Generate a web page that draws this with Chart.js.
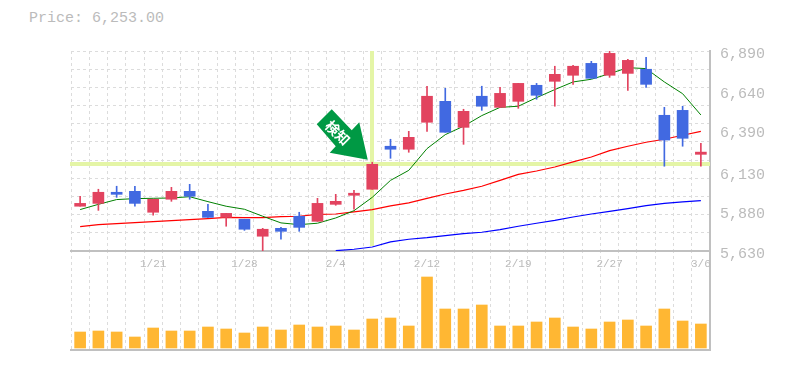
<!DOCTYPE html>
<html lang="ja">
<head>
    <meta charset="UTF-8">
    <title>Price chart</title>
    <script src="https://cdn.jsdelivr.net/npm/chart.js"></script>
    <style>
        body { margin: 0; background: #fff; }
        canvas { position: absolute; left: 0; top: 0; }
        #priceTitle { position: absolute; left: 29px; top: 10px; font: 15px "Liberation Mono", monospace; color: #bbb; }
    </style>
</head>
<body>
    <div id="priceTitle">Price: 6,253.00</div>
    <canvas id="volumeChart" width="785" height="370"></canvas>
    <canvas id="priceChart" width="785" height="370"></canvas>

    <script>
        const dates = ['1/15','1/16','1/17','1/18','1/21','1/22','1/23','1/24','1/25','1/28','1/29','1/30','1/31','2/1','2/4','2/5','2/6','2/7','2/8','2/12','2/13','2/14','2/15','2/18','2/19','2/20','2/21','2/22','2/25','2/27','2/28','3/1','3/4','3/5','3/6'];
        const shownDates = ['1/21','1/28','2/4','2/12','2/19','2/27','3/6'];
        const priceTicks = [5630, 5880, 6130, 6390, 6640, 6890];

        const opens  = [5912,5930,6000,6006,5874,5956,6006,5880,5842,5830,5723,5773,5849,5817,5924,5981,6019,6290,6271,6441,6573,6409,6605,6535,6573,6674,6699,6737,6812,6737,6749,6775,6485,6516,6239];
        const closes = [5930,6000,5987,5930,5956,6006,5975,5842,5867,5767,5767,5754,5779,5930,5943,5994,6176,6271,6346,6605,6378,6510,6542,6623,6686,6611,6743,6794,6718,6875,6831,6680,6329,6340,6253];
        const highs  = [5975,6019,6038,6038,5956,6031,6050,5924,5867,5830,5773,5779,5874,5962,5987,6012,6189,6334,6384,6668,6655,6523,6668,6661,6686,6686,6794,6800,6825,6890,6838,6850,6535,6542,6308];
        const lows   = [5912,5886,5968,5912,5855,5943,5956,5842,5786,5760,5630,5704,5754,5817,5918,5893,6019,6214,6252,6384,6378,6302,6516,6535,6529,6586,6542,6680,6718,6724,6642,6661,6164,6290,6164];

        const maShort  = [5891,5924,5954,5960,5962,5964,5972,5941,5912,5893,5849,5807,5796,5805,5838,5884,5968,6075,6138,6275,6363,6416,6483,6535,6542,6596,6647,6695,6712,6747,6785,6779,6695,6621,6487];
        const maMiddle = [5784,5796,5802,5809,5815,5821,5828,5834,5842,5840,5840,5847,5849,5861,5863,5876,5891,5914,5933,5962,5989,6012,6038,6075,6113,6134,6159,6191,6222,6262,6290,6315,6334,6359,6384];
        const maLong   = [null,null,null,null,null,null,null,null,null,null,null,null,null,null,5632,5641,5655,5687,5704,5714,5727,5739,5748,5765,5786,5805,5823,5844,5863,5880,5897,5916,5930,5939,5947];

        const volumes = [16,17,16,11,20,17,17,21,19,15,21,18,23,21,22,18,29,30,22,71,39,39,43,22,22,26,30,21,19,26,28,22,39,27,24];

        const signalDate = '2/6';
        const signalPrice = 6176;
        const signalText = '検知';

        const UP = '#e2435f';
        const DOWN = '#4169e1';
        const GRID = '#dcdcdc';
        const AXIS = '#c0c0c0';
        const LABEL = '#bbb';
        const candleColors = opens.map((o, i) => closes[i] >= o ? UP : DOWN);

        // crosshair and arrow on the signal day
        const signalPlugin = {
            id: 'signal',
            beforeDatasetsDraw(chart) {
                const { ctx, chartArea, scales } = chart;
                const x = Math.round(scales.x.getPixelForValue(dates.indexOf(signalDate)));
                const y = Math.round(scales.y.getPixelForValue(signalPrice));
                ctx.save();
                ctx.fillStyle = '#e4f5a6';
                ctx.fillRect(chartArea.left - 1, y - 2, chartArea.width + 1, 4);
                ctx.fillRect(x - 2, chartArea.top, 4, chartArea.height - 5);
                ctx.restore();
            },
            afterDatasetsDraw(chart) {
                const { ctx, scales } = chart;
                const x = scales.x.getPixelForValue(dates.indexOf(signalDate)) - 4.5;
                const y = scales.y.getPixelForValue(signalPrice) - 4.5;
                const arrow = [[-36, -50.5], [-51, -35.5], [-32, -13.5], [-38, -7], [0, 0], [-8.5, -37.5], [-16, -29.5]];
                ctx.save();
                ctx.fillStyle = '#009944';
                ctx.beginPath();
                arrow.forEach(([dx, dy], i) => i ? ctx.lineTo(x + dx, y + dy) : ctx.moveTo(x + dx, y + dy));
                ctx.closePath();
                ctx.fill();
                ctx.translate(x - 30, y - 27);
                ctx.rotate(Math.PI / 4);
                ctx.fillStyle = '#fff';
                ctx.font = 'bold 14px "Noto Sans CJK JP"';
                ctx.textAlign = 'center';
                ctx.textBaseline = 'middle';
                ctx.fillText(signalText, 0, 0);
                ctx.restore();
            }
        };

        new Chart(document.getElementById('priceChart'), {
            type: 'bar',
            data: {
                labels: dates,
                datasets: [
                    { type: 'bar', data: opens.map((o, i) => [o, closes[i]]), backgroundColor: candleColors, barThickness: 11, grouped: false, yAxisID: 'y', order: 1 },
                    { type: 'bar', data: lows.map((l, i) => [l, highs[i]]), backgroundColor: candleColors, barThickness: 1, grouped: false, yAxisID: 'y', order: 2 },
                    { type: 'line', data: maShort, borderColor: '#008000', borderWidth: 1, pointRadius: 0, tension: 0, yAxisID: 'y', order: 3 },
                    { type: 'line', data: maMiddle, borderColor: '#ff0000', borderWidth: 1.2, pointRadius: 0, tension: 0, yAxisID: 'y', order: 4 },
                    { type: 'line', data: maLong, borderColor: '#0000ff', borderWidth: 1.2, pointRadius: 0, tension: 0, yAxisID: 'y', order: 5 }
                ]
            },
            plugins: [signalPlugin],
            options: {
                responsive: false,
                animation: false,
                layout: { padding: { left: 71, top: 51 } },
                plugins: { legend: { display: false }, tooltip: { enabled: false } },
                scales: {
                    x: {
                        grid: { color: GRID, drawTicks: false },
                        border: { color: AXIS, width: 2, dash: [3, 3] },
                        afterFit(scale) { scale.height = 119; },
                        ticks: {
                            autoSkip: false,
                            maxRotation: 0,
                            padding: 6,
                            color: LABEL,
                            font: { family: '"Liberation Mono"', size: 11 },
                            callback(value) {
                                const d = dates[value];
                                return shownDates.includes(d) ? d : '';
                            }
                        }
                    },
                    y: {
                        min: 5630,
                        max: 6890,
                        grid: { color: GRID, drawTicks: false },
                        border: { display: false, dash: [3, 3] },
                        ticks: { display: false },
                        afterFit(scale) { scale.width = 0; },
                        afterBuildTicks(scale) {
                            const step = (scale.max - scale.min) / 11;
                            scale.ticks = Array.from({ length: 12 }, (_, i) => ({ value: scale.min + i * step }));
                        }
                    },
                    // labels sit a little under their grid position in the original
                    y2: {
                        position: 'right',
                        min: 5649,
                        max: 6909,
                        grid: { display: false },
                        border: { display: true, color: AXIS, width: 2 },
                        afterFit(scale) { scale.width = 75; },
                        afterBuildTicks(scale) { scale.ticks = priceTicks.map(v => ({ value: v })); },
                        ticks: {
                            padding: 2,
                            color: LABEL,
                            font: { family: '"Liberation Mono"', size: 15 },
                            callback: v => v.toLocaleString('en-US')
                        }
                    }
                }
            }
        });

        new Chart(document.getElementById('volumeChart'), {
            type: 'bar',
            data: {
                labels: dates,
                datasets: [{ data: volumes, backgroundColor: '#ffb733', barThickness: 11 }]
            },
            options: {
                responsive: false,
                animation: false,
                layout: { padding: { left: 71, top: 250 } },
                plugins: { legend: { display: false }, tooltip: { enabled: false } },
                scales: {
                    x: {
                        grid: { color: GRID, drawTicks: false },
                        border: { color: AXIS, width: 2, dash: [3, 3] },
                        ticks: { display: false },
                        afterFit(scale) { scale.height = 20; }
                    },
                    y: {
                        position: 'right',
                        min: -2,
                        max: 98,
                        grid: { display: false },
                        border: { display: true, color: AXIS, width: 2 },
                        ticks: { display: false },
                        afterFit(scale) { scale.width = 75; }
                    }
                }
            }
        });
    </script>
</body>
</html>
